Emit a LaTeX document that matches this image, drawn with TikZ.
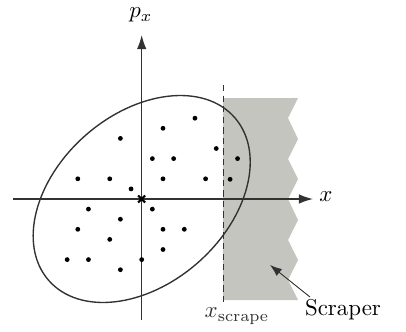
\documentclass[tikz,border=0pt]{standalone}
\usetikzlibrary{arrows.meta}
\definecolor{scrapegray}{RGB}{197,197,192}
\definecolor{linegray}{RGB}{50,50,50}
\begin{document}
\begin{tikzpicture}[x=0.4367pt,y=-0.4367pt,
  axis/.style={line width=0.6pt,draw=linegray,-{Latex[length=6.2pt,width=4.2pt]}},
  dot/.style={circle,fill=black,inner sep=0pt,minimum size=2.1pt},
  lbl/.style={inner sep=0pt}]
\useasboundingbox (0,0) rectangle (406,331);
% scraper region
\fill[scrapegray] (223,98) -- (298,98) -- (288,118) -- (298,139) -- (288,159) -- (298,179)
  -- (288,199) -- (298,220) -- (288,240) -- (298,260) -- (288,280) -- (298,300) -- (223,300) -- cycle;
% dashed line
\coordinate (dtop) at (223,85);
\coordinate (dbot) at (223,305);
\draw[line width=0.4pt,dash pattern=on 2.8pt off 1.8pt,draw=linegray] (dtop) -- (dbot);
% axes
\coordinate (O) at (141.7,199);
\coordinate (xl) at (13,199);
\coordinate (xr) at (313,199);
\coordinate (yb) at (141.7,320);
\coordinate (yt) at (141.7,35);
\draw[axis] (xl) -- (xr);
\draw[axis] (yb) -- (yt);
\node[lbl] (xlab) at (326,197) {$x$};
\node[lbl] (plab) at (141,15) {$p_x$};
% ellipse
\draw[line width=0.6pt,draw=linegray,rotate around={41.2:(O)}] (O) ellipse [x radius=123.6, y radius=84.9];
% origin cross
\draw[line width=0.9pt] (138.2,195.5) -- (145.2,202.5) (138.2,202.5) -- (145.2,195.5);
% dots
\foreach \i/\j in {5/8,2/7,-2/6,7/5,1/4,3/4,9/4,-6/2,-3/2,2/2,6/2,8.3/1.95,-1/1,
  -5/-1,1/-1,-2/-2,-6/-3,2/-3,4/-3,-3/-4,2/-5,-7/-6,-5/-6,0/-6,-2/-7}
  \node[dot] at (141.7+10.65*\i,199-10.1*\j) {};
% labels
\node[lbl,text=linegray] (xs) at (237,316) {$x_{\mathrm{scrape}}$};
\node[lbl] (scr) at (343,310) {Scraper};
\coordinate (tip) at (270,265);
\draw[line width=0.4pt,draw=linegray,-{Latex[length=5.2pt,width=3.8pt]}] (310,297) -- (tip);
\end{tikzpicture}
\end{document}
